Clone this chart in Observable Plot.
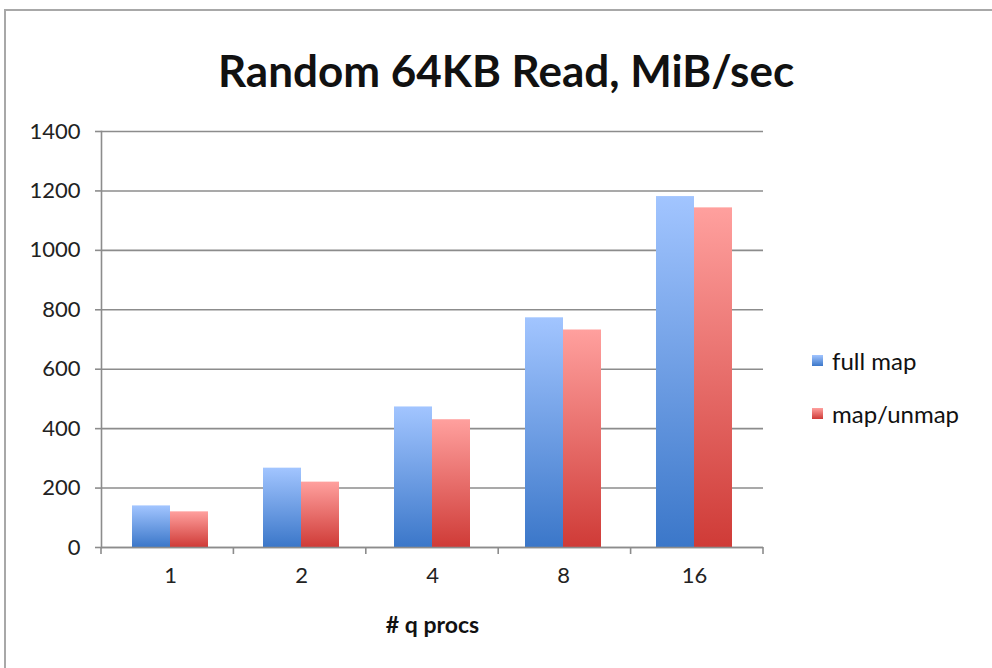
<!DOCTYPE html>
<html><head><meta charset="utf-8">
<script src="https://cdn.jsdelivr.net/npm/d3@7"></script>
<script src="https://cdn.jsdelivr.net/npm/@observablehq/plot@0.6"></script>
<style>
html,body{margin:0;background:#fff;overflow:hidden;}
#wrap{position:relative;width:992px;height:668px;overflow:hidden;font-family:Lato,"Open Sans",sans-serif;color:#111;}
#hline{position:absolute;left:4px;top:9px;width:988px;height:2px;background:#a8a8a8;}
#vline{position:absolute;left:4px;top:9px;width:2px;height:659px;background:#a8a8a8;}
#title{position:absolute;left:10px;width:992px;top:43px;text-align:center;font-size:44px;font-weight:bold;line-height:54px;}
#chart{position:absolute;left:0;top:0;}
#legend{position:absolute;left:812px;top:344px;font-size:24px;}
.li{display:flex;align-items:center;height:32px;margin-bottom:21px;}
.sw{width:11px;height:11px;margin-right:9px;}
</style></head>
<body>
<div id="wrap">
  <div id="hline"></div>
  <div id="vline"></div>
  <div id="chart"></div>
  <div id="title">Random 64KB Read, MiB/sec</div>
  <div id="legend"></div>
</div>
<script>
const categories = ["1", "2", "4", "8", "16"];
const seriesNames = ["full map", "map/unmap"];
const fullMap = [140, 267, 473, 773, 1181];
const mapUnmap = [120, 220, 430, 732, 1143];
const yTicks = [0, 200, 400, 600, 800, 1000, 1200, 1400];
const xLabel = "# q procs";
const colors = {"full map": ["#a2c5ff", "#3b77c9"], "map/unmap": ["#ffa09e", "#cf3b37"]};

const data = categories.map((c, i) => ({c, full: fullMap[i], unmap: mapUnmap[i]}));

const plot = Plot.plot({
  width: 992, height: 668,
  marginLeft: 101, marginRight: 229, marginTop: 131, marginBottom: 121,
  style: {fontFamily: "Lato, 'Open Sans', sans-serif", fontSize: "22px", color: "#222", background: "transparent"},
  x: {domain: categories, paddingInner: 0.42, paddingOuter: 0.23, label: null},
  y: {domain: [0, 1400], label: null},
  marks: [
    Plot.gridY(yTicks, {stroke: "#8c8c8c", strokeOpacity: 1, strokeWidth: 1.6}),
    Plot.barY(data, {x: "c", y: "full", fill: "url(#gBlue)", insetRight: 38}),
    Plot.barY(data, {x: "c", y: "unmap", fill: "url(#gRed)", insetLeft: 38}),
    Plot.frame({anchor: "left", stroke: "#8c8c8c", strokeWidth: 1.6}),
    Plot.ruleY([0], {stroke: "#8c8c8c", strokeWidth: 1.6}),
    Plot.axisY(yTicks, {tickSize: 6, tickPadding: 15, tickFormat: d => String(d), stroke: "#8c8c8c", strokeWidth: 1.6, fill: "#222", fontSize: 22, label: null}),
    Plot.axisX({tickSize: 0, tickPadding: 20, fill: "#222", fontSize: 22, label: null}),
    Plot.text([xLabel], {frameAnchor: "bottom", dy: 78, fontWeight: "bold", fontSize: 23, fill: "#111", lineAnchor: "middle"})
  ]
});
document.getElementById("chart").appendChild(plot);

// gradients
const svg = d3.select(plot);
const defs = svg.insert("defs", ":first-child");
[["gBlue", colors["full map"]], ["gRed", colors["map/unmap"]]].forEach(([id, [top, bot]]) => {
  const g = defs.append("linearGradient").attr("id", id).attr("x1", 0).attr("y1", 0).attr("x2", 0).attr("y2", 1);
  g.append("stop").attr("offset", "0%").attr("stop-color", top);
  g.append("stop").attr("offset", "100%").attr("stop-color", bot);
});

// x tick marks at category boundaries, from the library's scales
const sx = plot.scale("x"), sy = plot.scale("y");
const y0 = sy.apply(0);
const x0 = sx.range[0];
const stepW = (sx.range[1] - sx.range[0]) / categories.length;
for (let k = 0; k <= categories.length; k++) {
  const xx = x0 + k * stepW;
  svg.append("line").attr("x1", xx).attr("x2", xx).attr("y1", y0).attr("y2", y0 + 7)
    .attr("stroke", "#8c8c8c").attr("stroke-width", 1.6);
}

// legend
const leg = document.getElementById("legend");
seriesNames.forEach(n => {
  const row = document.createElement("div"); row.className = "li";
  const sw = document.createElement("div"); sw.className = "sw";
  sw.style.background = `linear-gradient(${colors[n][0]}, ${colors[n][1]})`;
  const t = document.createElement("span"); t.textContent = n;
  row.appendChild(sw); row.appendChild(t); leg.appendChild(row);
});
</script>
</body></html>
